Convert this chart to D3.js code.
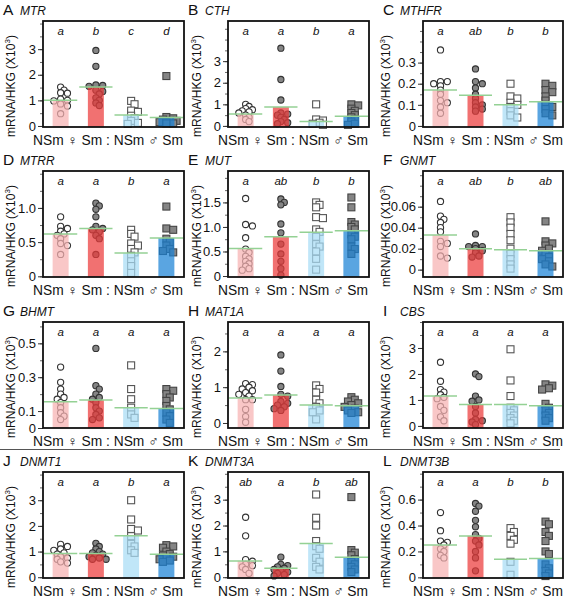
<!DOCTYPE html>
<html><head><meta charset="utf-8">
<script src="https://cdn.jsdelivr.net/npm/d3@7"></script>
<style>body{margin:0;background:#fff} svg{font-family:"Liberation Sans",Arial,sans-serif}</style>
</head><body><svg id="c" width="567" height="598"></svg>
<script>
const panelIds = ["A","B","C","D","E","F","G","H","I","J","K","L"];
const genes = ["MTR","CTH","MTHFR","MTRR","MUT","GNMT","BHMT","MAT1A","CBS","DNMT1","DNMT3A","DNMT3B"];
const groupAxisText = "NSm ♀ Sm : NSm ♂ Sm";
const sigLetters = [
  ["a","b","c","d"],["a","a","b","a"],["a","ab","b","b"],
  ["a","a","b","a"],["a","ab","b","b"],["a","ab","b","ab"],
  ["a","a","a","a"],["a","a","a","a"],["a","a","a","a"],
  ["a","a","b","a"],["ab","a","b","ab"],["a","a","b","b"]];
const yDomains = [[-0.04,4.1],[-0.05,4.86],[-0.005,0.497],[-0.01,1.54],[-0.02,2.14],[-0.007,0.094],
  [0,0.626],[-0.14,2.82],[-0.08,4.0],[-0.03,4.1],[-0.03,4.07],[-0.005,0.813]];
const tickValues = [[0,1,2,3],[0,1,2,3],[0,0.1,0.2,0.3],[0,0.5,1.0],[0,0.5,1.0,1.5],[0,0.02,0.04,0.06],
  [0,0.1,0.3,0.5],[0,1,2],[0,1,2,3],[0,1,2,3],[0,1,2,3],[0,0.2,0.4,0.6]];
const tickLabels = [["0","1","2","3"],["0","1","2","3"],["0","0.1","0.2","0.3"],["0","0.5","1.0"],["0","0.5","1.0","1.5"],["0","0.02","0.04","0.06"],
  ["0","0.1","0.3","0.5"],["0","1","2"],["0","1","2","3"],["0","1","2","3"],["0","1","2","3"],["0","0.2","0.4","0.6"]];
const minorStep = [0.5,0.5,0.05,0.25,0.25,0.01,0.1,0.5,0.5,0.5,0.5,0.1];
const means = [[1.0,1.52,0.43,0.33],[0.55,0.88,0.2,0.45],[0.17,0.145,0.10,0.115],[0.62,0.70,0.34,0.56],
  [0.56,0.80,0.89,0.92],[0.033,0.020,0.019,0.018],[0.155,0.165,0.12,0.115],[0.70,0.78,0.50,0.48],
  [1.15,0.82,0.82,0.78],[0.92,0.92,1.62,0.90],[0.63,0.35,1.30,0.77],[0.25,0.32,0.14,0.145]];
const nsmFemale = [
  [1.52,1.40,1.30,1.28,1.05,1.0,0.98,0.86,0.78,0.48],
  [1.0,0.9,0.8,0.75,0.7,0.65,0.6,0.5,0.4,0.3,0.2],
  [0.36,0.21,0.21,0.2,0.19,0.17,0.15,0.12,0.11,0.09,0.06],
  [0.87,0.73,0.7,0.66,0.62,0.6,0.55,0.48,0.45,0.32],
  [1.58,1.05,1.02,0.78,0.55,0.48,0.4,0.35,0.3,0.25,0.2,0.15,0.12],
  [0.065,0.051,0.048,0.045,0.04,0.036,0.027,0.025,0.022,0.013,0.011],
  [0.36,0.27,0.23,0.2,0.18,0.17,0.15,0.12,0.09,0.07,0.05],
  [1.1,1.07,1.0,0.95,0.9,0.85,0.8,0.75,0.65,0.65,0.38,0.18,0.02],
  [2.45,1.72,1.4,1.3,1.2,1.1,1.05,0.75,0.6,0.35,0.2],
  [1.28,1.2,1.1,1.05,0.95,0.9,0.8,0.75,0.7,0.6,0.55],
  [2.32,1.6,0.68,0.62,0.5,0.45,0.4,0.3,0.15],
  [0.5,0.36,0.28,0.27,0.25,0.22,0.2,0.17,0.15]];
const smFemale = [
  [2.95,2.33,1.6,1.58,1.55,1.4,1.35,1.25,1.1,1.0,0.9,0.8],
  [3.6,2.15,1.2,0.6,0.55,0.5,0.4,0.3,0.2,0.15,0.1],
  [0.27,0.21,0.2,0.18,0.15,0.13,0.11,0.1,0.09,0.08,0.07],
  [1.07,1.03,0.98,0.87,0.73,0.7,0.68,0.65,0.6,0.55,0.32],
  [1.57,1.5,1.45,1.06,0.88,0.65,0.45,0.3,0.15,0.02],
  [0.034,0.023,0.022,0.022,0.02,0.018,0.016,0.013,0.012],
  [0.47,0.25,0.23,0.2,0.18,0.17,0.15,0.12,0.1,0.08,0.06,0.05],
  [1.9,1.45,1.02,0.8,0.75,0.6,0.55,0.5,0.45,0.4,0.35],
  [2.0,1.9,1.15,1.0,0.95,0.75,0.5,0.25,0.2,0.15,0.05],
  [1.32,1.2,1.1,1.0,0.95,0.9,0.85,0.8,0.75,0.7,0.7],
  [0.78,0.5,0.45,0.4,0.35,0.3,0.25,0.2,0.15,0.1,0.05],
  [0.57,0.55,0.51,0.44,0.39,0.33,0.3,0.28,0.25,0.2,0.15,0.05]];
const nsmMale = [
  [0.98,0.85,0.6,0.55,0.4,0.3,0.2,0.12,0.08],
  [1.0,0.3,0.25,0.15,0.1,0.05],
  [0.2,0.14,0.13,0.11,0.1,0.09,0.07,0.05,0.04],
  [0.68,0.62,0.58,0.48,0.45,0.4,0.35,0.3,0.22,0.15,0.05],
  [1.5,1.45,1.4,1.2,1.18,0.95,0.9,0.8,0.65,0.6,0.5,0.35,0.13],
  [0.05,0.045,0.04,0.034,0.028,0.02,0.015,0.01,0.005,0.001],
  [0.37,0.23,0.17,0.12,0.08,0.06],
  [1.05,0.95,0.85,0.65,0.55,0.45,0.35,0.3,0.1],
  [2.95,1.75,1.15,0.7,0.6,0.5,0.4,0.3,0.2,0.1],
  [3.0,2.25,1.88,1.82,1.6,1.3,1.2,1.05,0.95],
  [3.2,2.3,2.0,1.4,1.2,1.1,0.75,0.6,0.4,0.3],
  [0.38,0.35,0.32,0.29,0.26,0.12,0.02]];
const smMale = [
  [1.95,0.35,0.3,0.25,0.2,0.2,0.15,0.15,0.1,0.1],
  [1.0,0.95,0.8,0.7,0.6,0.5,0.4,0.3,0.2,0.1,0.05],
  [0.2,0.19,0.17,0.16,0.14,0.12,0.1,0.09,0.08,0.06,0.05],
  [1.02,0.7,0.68,0.55,0.5,0.45,0.4,0.37,0.35],
  [1.6,1.4,1.1,1.05,1.0,0.95,0.85,0.8,0.75,0.6,0.55,0.45],
  [0.046,0.027,0.025,0.023,0.02,0.018,0.015,0.012,0.01,0.008,0.005,0.003],
  [0.23,0.22,0.2,0.18,0.16,0.13,0.11,0.09,0.07,0.05,0.03],
  [0.72,0.65,0.6,0.55,0.5,0.45,0.4,0.35,0.3,0.28],
  [1.6,1.55,1.45,1.4,0.85,0.7,0.6,0.5,0.4,0.3,0.2],
  [1.25,1.2,1.15,1.0,0.9,0.85,0.8,0.75,0.7,0.65,0.6],
  [3.1,1.05,0.95,0.85,0.7,0.6,0.5,0.4,0.3,0.2],
  [0.43,0.41,0.35,0.32,0.28,0.2,0.18,0.1,0.07,0.05,0.03,0.01]];

const barColors = ["#f6b2b2","#ec3a3a","#a8dcf5","#1a82d6"];
const barOpacity = 0.72;
const pointFill = ["#ffffff","#858585","#ffffff","#858585"];
const pointStroke = ["#333333","#333333","#555555","#444444"];
const pointShape = ["circle","circle","square","square"];

const svg = d3.select("#c");
const colX = [43, 228, 423];
const colW = [141, 141, 140];
const yLabelOff = [28, 27, 33];
const rowY = [21, 171, 322, 472];
const boxH = 106;

svg.append("line").attr("x1",0).attr("x2",560).attr("y1",449.5).attr("y2",449.5)
  .attr("stroke","#555").attr("stroke-width",1);

panelIds.forEach((pid, i) => {
  const col = i % 3, row = Math.floor(i / 3);
  const x0 = colX[col], w = colW[col], y0 = rowY[row];
  const g = svg.append("g");
  const x = d3.scaleBand().domain(d3.range(4)).range([x0, x0 + w]);
  const y = d3.scaleLinear().domain(yDomains[i]).range([y0 + boxH, y0]);
  const bw = 16, r = 3.1, sq = 7;

  g.append("text").attr("x", x0 - 40).attr("y", y0 - 6).attr("font-size", 15.5).attr("fill","#111").text(pid);
  g.append("text").attr("x", x0 - 23).attr("y", y0 - 6).attr("font-size", 12).attr("font-style","italic").attr("fill","#111").text(genes[i]);

  const sets = [nsmFemale[i], smFemale[i], nsmMale[i], smMale[i]];
  sets.forEach((vals, k) => {
    const cx = x(k) + x.bandwidth() / 2;
    const placed = [];
    const d = r * 1.1;
    vals.forEach(v => {
      const py = y(v);
      const offs = [0];
      for (let m = 1; m <= 3; m++) offs.push(m * d, -m * d);
      let px = cx;
      for (const o of offs) {
        if (placed.every(p => Math.hypot(p[0] - (cx + o), p[1] - py) >= 2 * r * 0.65)) { px = cx + o; break; }
      }
      placed.push([px, py]);
      if (pointShape[k] === "circle") {
        g.append("circle").attr("cx", px).attr("cy", py).attr("r", r)
          .attr("fill", pointFill[k]).attr("stroke", pointStroke[k]).attr("stroke-width", 1.1);
      } else {
        g.append("rect").attr("x", px - sq / 2).attr("y", py - sq / 2).attr("width", sq).attr("height", sq)
          .attr("fill", pointFill[k]).attr("stroke", pointStroke[k]).attr("stroke-width", 1.1);
      }
    });
  });

  g.selectAll(".bar").data(means[i]).join("rect")
    .attr("x", (d, k) => x(k) + x.bandwidth() / 2 - bw / 2)
    .attr("width", bw)
    .attr("y", d => y(d))
    .attr("height", d => y(yDomains[i][0]) - y(d))
    .attr("fill", (d, k) => barColors[k]).attr("fill-opacity", barOpacity);

  g.selectAll(".mean").data(means[i]).join("line")
    .attr("x1", (d, k) => x(k) + 1).attr("x2", (d, k) => x(k) + x.bandwidth() - 1)
    .attr("y1", d => y(d)).attr("y2", d => y(d))
    .attr("stroke", "#94d194").attr("stroke-width", 1.5);

  g.selectAll(".sig").data(sigLetters[i]).join("text")
    .attr("x", (d, k) => x(k) + x.bandwidth() / 2).attr("y", y0 + 14)
    .attr("text-anchor", "middle").attr("font-size", 11.5).attr("font-style", "italic").attr("fill","#111").text(d => d);

  const [dmin, dmax] = yDomains[i];
  const minors = d3.range(0, dmax + 1e-9, minorStep[i]);
  const minorAxis = d3.axisLeft(y).tickValues(minors).tickSize(3).tickFormat("");
  g.append("g").attr("transform", `translate(${x0},0)`).call(minorAxis)
    .call(s => s.select(".domain").remove()).selectAll("line").attr("stroke", "#666");

  const ax = d3.axisLeft(y).tickValues(tickValues[i]).tickSize(5).tickPadding(2)
    .tickFormat((d, j) => tickLabels[i][j]);
  g.append("g").attr("transform", `translate(${x0},0)`).call(ax)
    .call(s => s.select(".domain").remove())
    .call(s => s.selectAll("text").attr("font-size", 13).attr("font-family", "Liberation Sans, Arial, sans-serif").attr("fill", "#111"))
    .call(s => s.selectAll("line").attr("stroke", "#333"));

  g.append("rect").attr("x", x0).attr("y", y0).attr("width", w).attr("height", boxH)
    .attr("fill", "none").attr("stroke", "#111").attr("stroke-width", 1.8);

  const yl = g.append("text").attr("transform", `translate(${x0 - yLabelOff[col]},${y0 + boxH / 2 + 12}) rotate(-90)`)
    .attr("text-anchor", "middle").attr("font-size", 12).attr("fill", "#111");
  yl.append("tspan").text("mRNA/HKG (X10");
  yl.append("tspan").attr("font-size", 8).attr("dy", -5).text("3");
  yl.append("tspan").attr("dy", 5).text(")");

  g.append("text").attr("x", x0 - 10).attr("y", y0 + boxH + 18).attr("font-size", 14)
    .attr("textLength", 150).attr("lengthAdjust", "spacingAndGlyphs").attr("fill", "#111")
    .text(groupAxisText);
});
</script></body></html>
